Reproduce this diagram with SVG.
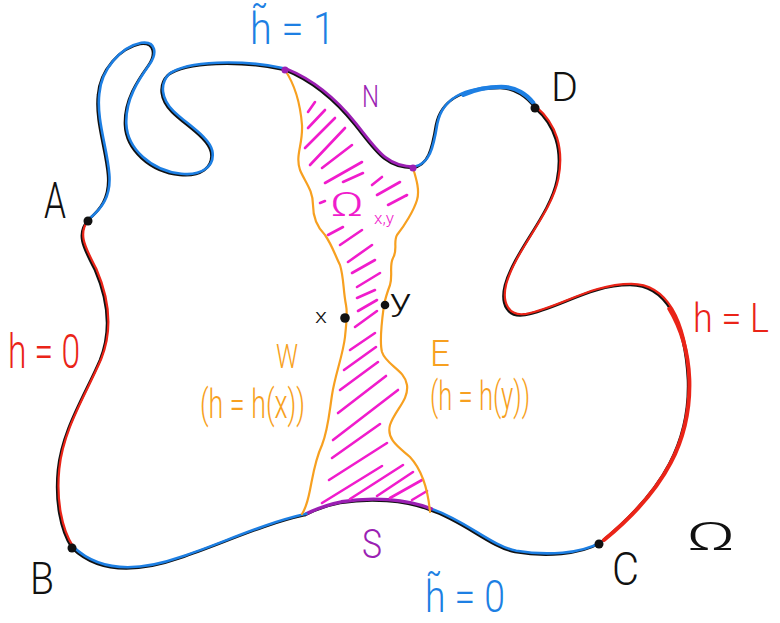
<svg xmlns="http://www.w3.org/2000/svg" width="780" height="623" viewBox="0 0 780 623">
<style>
  .ln{fill:none;stroke-linecap:round;stroke-linejoin:round}
  .blk{stroke:#111;stroke-width:2.6}
  .blu{stroke:#1d7fe3;stroke-width:2.6}
  .red{stroke:#ea2418;stroke-width:2.2}
  .pur{stroke:#9b1fb3;stroke-width:2.8}
  .org{stroke:#f7a020;stroke-width:2.2}
  .hat{stroke:#f01ccc;stroke-width:2.6}
  text{font-family:Roboto,"DejaVu Sans Condensed","Liberation Sans",sans-serif;font-weight:300}
</style>
<defs>
  <path id="s1" d="M88,220 C100,210 110,198 108,175 C106,150 95,120 98,95 C100,70 120,48 140,44 C155,42 156,55 148,66 C138,80 124,100 125,125 C126,150 150,172 180,175 C200,177 214,168 211,152 C208,138 185,125 172,112 C160,100 158,85 168,75 C185,62 240,60 285,70"/>
  <path id="s2" d="M285,70 C310,80 335,100 355,125 C375,150 385,168 413,168"/>
  <path id="s3" d="M413,168 C428,165 432,150 436,125 C442,95 470,88 500,88 C515,88 528,98 535,108"/>
  <path id="s4" d="M535,108 C555,125 563,150 557,180 C550,215 515,250 505,285 C500,305 508,318 525,315 C560,308 590,285 630,285 C665,285 685,320 688,380 C690,440 665,490 600,543"/>
  <path id="s5" d="M600,543 C580,555 545,557 515,552 C490,547 465,522 430,510"/>
  <path id="s6" d="M430,510 C405,500 370,498 340,503 C325,506 315,510 305,515"/>
  <path id="s7" d="M305,515 C260,525 220,545 180,558 C140,572 100,575 72,548"/>
  <path id="s8" d="M72,548 C60,530 55,500 58,470 C62,430 85,395 100,360 C112,330 108,300 95,270 C85,250 75,235 88,220"/>
</defs>

<g id="boundary-black" class="ln blk">
  <use href="#s1"/><use href="#s2"/><use href="#s3"/><use href="#s4"/>
  <use href="#s5"/><use href="#s6"/><use href="#s7"/><use href="#s8"/>
</g>
<g id="boundary-colored" class="ln" transform="translate(1.3,-1.2)">
  <use href="#s1" class="blu"/>
  <use href="#s2" class="pur"/>
  <use href="#s3" class="blu"/>
  <use href="#s4" class="red"/>
  <use href="#s5" class="blu"/>
  <use href="#s6" class="pur" style="stroke-width:3.4"/>
  <use href="#s7" class="blu"/>
  <use href="#s8" class="red"/>
  <path class="blu" style="stroke-width:4.2" d="M462,96 C475,90 490,88 500,88 C515,88 526,96 532,104"/>
  <path class="red" style="stroke-width:4" d="M668,310 C680,330 687,355 688,380 C690,440 665,490 603,541"/>
</g>

<g id="omega-xy-region">
  <g id="hatching" class="ln hat">
    <path d="M308,112 L315,102"/>
    <path d="M308,128 L325,110"/>
    <path d="M305,148 L335,118"/>
    <path d="M310,165 L345,128"/>
    <path d="M322,168 L352,145"/>
    <path d="M325,183 L362,162"/>
    <path d="M343,182 L363,173"/>
    <path d="M372,185 L382,177"/>
    <path d="M377,195 L400,182"/>
    <path d="M388,205 L407,195"/>
    <path d="M320,203 L325,201"/>
    <path d="M328,235 L343,227"/>
    <path d="M340,245 L362,230"/>
    <path d="M348,262 L372,245"/>
    <path d="M352,273 L375,260"/>
    <path d="M357,287 L380,273"/>
    <path d="M357,298 L375,290"/>
    <path d="M358,311 L377,300"/>
    <path d="M355,327 L377,311"/>
    <path d="M350,350 L375,333"/>
    <path d="M344,370 L376,347"/>
    <path d="M340,390 L378,362"/>
    <path d="M338,413 L386,376"/>
    <path d="M333,440 L398,390"/>
    <path d="M332,458 L380,424"/>
    <path d="M329,480 L387,443"/>
    <path d="M322,503 L382,466"/>
    <path d="M350,499 L403,465"/>
    <path d="M377,496 L413,472"/>
    <path d="M390,498 L422,480"/>
    <path d="M412,500 L427,491"/>
  </g>
  <g id="W-curve" class="ln org">
    <path d="M285,70 C293,82 300,100 302,125 C303,145 295,155 300,170 C305,182 313,190 313,205 C313,218 318,228 325,235 C332,245 335,255 340,265 C344,278 343,290 346,305 C348,315 346,325 345,337 C343,355 335,375 332,395 C329,415 328,430 322,445 C315,460 313,475 310,490 C308,500 306,508 302,514"/>
  </g>
  <g id="E-curve" class="ln org">
    <path d="M413,168 C416,178 420,190 417,200 C414,210 405,225 397,235 C393,242 398,250 393,258 C389,266 393,275 390,285 C387,293 385,300 384,305 C382,320 379,340 382,352 C386,365 405,370 407,385 C409,400 395,410 390,425 C386,440 400,448 410,457 C422,470 428,490 430,512"/>
  </g>
  <text x="330" y="216" font-size="34" fill="#f01ccc" textLength="34" lengthAdjust="spacingAndGlyphs">Ω</text>
  <text x="374" y="224" font-size="17" fill="#f01ccc" textLength="20" lengthAdjust="spacingAndGlyphs">x,y</text>
</g>

<g id="points">
  <circle cx="88" cy="221" r="4.5" fill="#111"/>
  <circle cx="535" cy="108" r="4.5" fill="#111"/>
  <circle cx="599" cy="544" r="4.5" fill="#111"/>
  <circle cx="72" cy="548" r="4.5" fill="#111"/>
  <circle cx="285" cy="70" r="3.5" fill="#9b1fb3"/>
  <circle cx="413" cy="168" r="3.5" fill="#9b1fb3"/>
  <circle cx="345" cy="318" r="4.8" fill="#111"/>
  <circle cx="385" cy="305" r="4.3" fill="#111"/>
</g>

<g id="labels">
  <text x="250" y="44" font-size="44" fill="#1d7fe3" textLength="85" lengthAdjust="spacingAndGlyphs">h̃ = 1</text>
  <text x="362" y="107" font-size="32" fill="#9b1fb3" textLength="17" lengthAdjust="spacingAndGlyphs">N</text>
  <text x="551" y="101" font-size="40" fill="#111" textLength="27" lengthAdjust="spacingAndGlyphs">D</text>
  <text x="44" y="218" font-size="50" fill="#111" textLength="22" lengthAdjust="spacingAndGlyphs">A</text>
  <text x="8" y="368" font-size="48" fill="#ea2418" textLength="72" lengthAdjust="spacingAndGlyphs">h = 0</text>
  <text x="693" y="332" font-size="40" fill="#ea2418" textLength="76" lengthAdjust="spacingAndGlyphs">h = L</text>
  <text x="315" y="323" font-size="20" fill="#111" textLength="12" lengthAdjust="spacingAndGlyphs">x</text>
  <text x="390" y="311" font-size="32" fill="#111" textLength="21" lengthAdjust="spacingAndGlyphs">y</text>
  <text x="276" y="368" font-size="34" fill="#f7a020" textLength="22" lengthAdjust="spacingAndGlyphs">W</text>
  <text x="200" y="418" font-size="40" fill="#f7a020" textLength="105" lengthAdjust="spacingAndGlyphs">(h = h(x))</text>
  <text x="430" y="366" font-size="36" fill="#f7a020" textLength="20" lengthAdjust="spacingAndGlyphs">E</text>
  <text x="430" y="410" font-size="40" fill="#f7a020" textLength="100" lengthAdjust="spacingAndGlyphs">(h = h(y))</text>
  <text x="362" y="558" font-size="40" fill="#9b1fb3" textLength="20" lengthAdjust="spacingAndGlyphs">S</text>
  <text x="425" y="612" font-size="44" fill="#1d7fe3" textLength="80" lengthAdjust="spacingAndGlyphs">h̃ = 0</text>
  <text x="30" y="594" font-size="44" fill="#111" textLength="24" lengthAdjust="spacingAndGlyphs">B</text>
  <text x="612" y="585" font-size="46" fill="#111" textLength="27" lengthAdjust="spacingAndGlyphs">C</text>
  <text x="686" y="550" font-size="38" fill="#111" textLength="50" lengthAdjust="spacingAndGlyphs">Ω</text>
</g>
</svg>
